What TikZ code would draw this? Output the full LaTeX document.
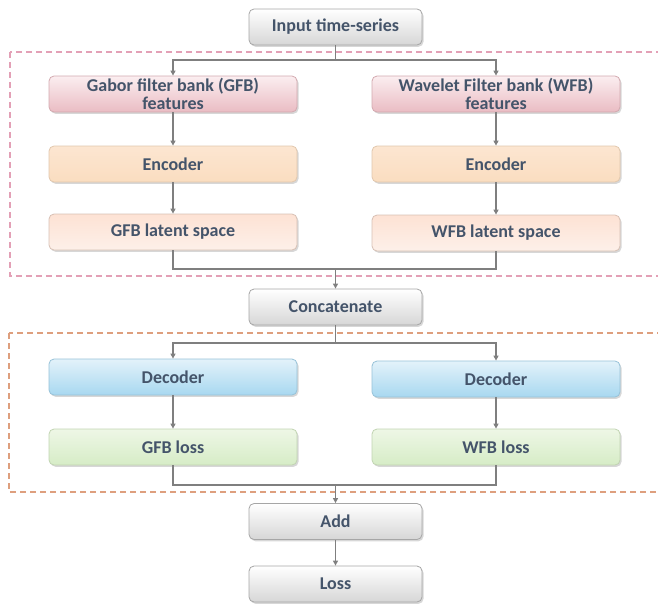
\documentclass[tikz,border=0pt]{standalone}
\usepackage{fontspec}
\setmainfont{Carlito}
\usetikzlibrary{arrows.meta,shadows}

\definecolor{txtblue}{HTML}{44546A}
\definecolor{linegray}{HTML}{7F7F7F}
\definecolor{dashpink}{HTML}{E3A0B6}
\definecolor{dashorange}{HTML}{DE9F7E}
\definecolor{pinktop}{HTML}{FBEEF0}
\definecolor{pinkbot}{HTML}{EABCC3}
\definecolor{enctop}{HTML}{FCE6D1}
\definecolor{encbot}{HTML}{FADDC0}
\definecolor{lattop}{HTML}{FDE2D4}
\definecolor{latbot}{HTML}{FDF0E9}
\definecolor{dectop}{HTML}{E3F2FA}
\definecolor{decbot}{HTML}{A8D8F0}
\definecolor{losstop}{HTML}{EEF7E6}
\definecolor{lossbot}{HTML}{D6ECC6}

\begin{document}
\begin{tikzpicture}[
  x=1pt, y=-1pt,
  rail/.style={draw, rounded corners=5pt, minimum width=248pt,
               minimum height=36pt, align=center, inner sep=1pt,
               font=\fontsize{18}{18.5}\selectfont\bfseries, text=txtblue,
               line width=0.8pt,
               drop shadow={shadow xshift=1.5pt, shadow yshift=-1.8pt,
                            fill=black!35, opacity=0.45}},
  mainbox/.style={rail, minimum width=173pt, draw=black!35,
                  top color=white, bottom color=black!16},
  featbox/.style={rail, draw=pinkbot!90!black, top color=pinktop, bottom color=pinkbot},
  encbox/.style={rail, draw=encbot!90!black, top color=enctop, bottom color=encbot},
  latbox/.style={rail, draw=lattop!85!black, top color=lattop, bottom color=latbot},
  decbox/.style={rail, draw=decbot!90!black, top color=dectop, bottom color=decbot},
  lossbox/.style={rail, draw=lossbot!90!black, top color=losstop, bottom color=lossbot},
  conn/.style={draw=linegray, line width=1.3pt},
  >={Triangle[length=5pt,width=5pt]}
]
\useasboundingbox (0,0) rectangle (658,603);

% Encoding block
\draw[dashpink, line width=1.3pt, dash pattern=on 6pt off 4pt] (10,52) rectangle (662,276);
% Decoding block
\draw[dashorange, line width=1.3pt, dash pattern=on 6pt off 4pt] (9,333) rectangle (662,492);

% Input
\node[mainbox] (inp) at (335.5,27) {Input time-series};

% Branch 1: Gabor
\node[featbox] (gfb) at (173,94) {Gabor filter bank (GFB)\\features};
\node[encbox] (enc_g) at (173,164) {Encoder};
\node[latbox] (lat_g) at (173,232) {GFB latent space};

% Branch 2: Wavelet
\node[featbox] (wfb) at (496,94) {Wavelet Filter bank (WFB)\\features};
\node[encbox] (enc_w) at (496,164) {Encoder};
\node[latbox] (lat_w) at (496,233) {WFB latent space};

% Concatenate
\node[mainbox] (cat) at (335.5,307) {Concatenate};

% Decoders and losses
\node[decbox] (dec_g) at (173,377) {Decoder};
\node[lossbox] (loss_g) at (173,447) {GFB loss};
\node[decbox] (dec_w) at (496,379) {Decoder};
\node[lossbox] (loss_w) at (496,447) {WFB loss};

% Output
\node[mainbox] (add) at (335.5,521.5) {Add};
\node[mainbox] (loss) at (335.5,584) {Loss};

% Split and merge points
\coordinate (split1) at (335.5,60);
\coordinate (merge1) at (335.5,269);
\coordinate (split2) at (335.5,343);
\coordinate (merge2) at (335.5,485);

% Connections
\draw[conn, ->] (inp) -- (split1) -| (gfb);
\draw[conn, ->] (inp) -- (split1) -| (wfb);
\draw[conn, ->] (gfb) -- (enc_g);
\draw[conn, ->] (wfb) -- (enc_w);
\draw[conn, ->] (enc_g) -- (lat_g);
\draw[conn, ->] (enc_w) -- (lat_w);
\draw[conn] (lat_g) |- (merge1);
\draw[conn] (lat_w) |- (merge1);
\draw[conn, ->] (merge1) -- (cat);

\draw[conn, ->] (cat) -- (split2) -| (dec_g);
\draw[conn, ->] (cat) -- (split2) -| (dec_w);
\draw[conn, ->] (dec_g) -- (loss_g);
\draw[conn, ->] (dec_w) -- (loss_w);
\draw[conn] (loss_g) |- (merge2);
\draw[conn] (loss_w) |- (merge2);
\draw[conn, ->] (merge2) -- (add);
\draw[conn, ->] (add) -- (loss);

\end{tikzpicture}
\end{document}
